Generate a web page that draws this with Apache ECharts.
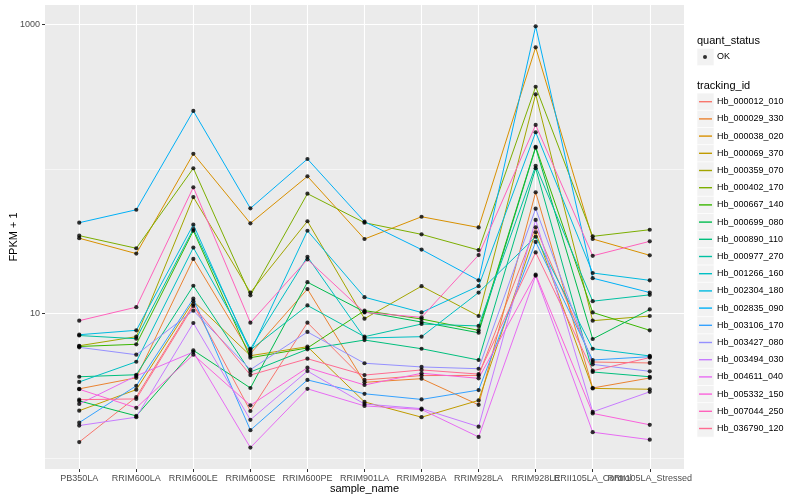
<!DOCTYPE html>
<html><head><meta charset="utf-8">
<script src="https://cdn.jsdelivr.net/npm/echarts@6/dist/echarts.min.js"></script>
<style>html,body{margin:0;padding:0;background:#fff}#c{width:800px;height:500px}</style>
</head><body><div id="c"></div>
<script>
// ---- data ----
const categories = ['PB350LA','RRIM600LA','RRIM600LE','RRIM600SE','RRIM600PE','RRIM901LA','RRIM928BA','RRIM928LA','RRIM928LE','RRII105LA_Control','RRII105LA_Stressed'];
const trackingIds = ['Hb_000012_010','Hb_000029_330','Hb_000038_020','Hb_000069_370','Hb_000359_070','Hb_000402_170','Hb_000667_140','Hb_000699_080','Hb_000890_110','Hb_000977_270','Hb_001266_160','Hb_002304_180','Hb_002835_090','Hb_003106_170','Hb_003427_080','Hb_003494_030','Hb_004611_040','Hb_005332_150','Hb_007044_250','Hb_036790_120'];
const seriesColors = ['#F8766D','#EA8331','#D89000','#C09B00','#A3A500','#7CAE00','#39B600','#00BB4E','#00BF7D','#00C1A3','#00BFC4','#00BAE0','#00B0F6','#35A2FF','#9590FF','#C77CFF','#E76BF3','#FA62DB','#FF62BC','#FF6C91'];

const hb_000012_010 = [1.30, 2.66, 11.6, 2.13, 8.67, 3.49, 3.74, 3.75, 39.5, 4.64, 4.57];
const hb_000029_330 = [3.03, 3.61, 23.9, 5.30, 14.8, 3.36, 3.56, 2.35, 68.9, 3.07, 3.60];
const hb_000038_020 = [33.2, 26.0, 127, 42.1, 88.8, 32.8, 46.7, 39.4, 690, 32.8, 25.3];
const hb_000069_370 = [2.14, 2.99, 12.2, 5.13, 5.92, 2.46, 1.93, 2.52, 36.5, 3.05, 3.01];
const hb_000359_070 = [6.01, 6.94, 63.9, 14.0, 43.5, 9.24, 15.5, 9.64, 327, 8.95, 9.64];
const hb_000402_170 = [34.6, 28.3, 101, 13.4, 67.4, 42.5, 35.3, 27.5, 369, 34.2, 38.0];
const hb_000667_140 = [5.94, 6.15, 37.4, 4.97, 5.80, 10.5, 9.19, 7.68, 142, 10.2, 7.68];
const hb_000699_080 = [2.50, 1.97, 5.59, 3.07, 16.5, 10.3, 8.76, 7.39, 140, 6.69, 10.7];
const hb_000890_110 = [3.67, 3.79, 15.6, 3.96, 5.68, 6.58, 5.73, 4.79, 101, 3.96, 3.67];
const hb_000977_270 = [7.07, 6.72, 38.4, 5.62, 11.4, 6.94, 8.49, 8.23, 105, 12.2, 13.5];
const hb_001266_160 = [3.38, 4.66, 28.6, 5.73, 24.7, 6.80, 6.94, 14.0, 34.0, 5.73, 5.11];
const hb_002304_180 = [7.16, 7.68, 41.2, 5.44, 37.4, 13.0, 10.2, 15.5, 179, 19.1, 17.0];
const hb_002835_090 = [42.5, 52.2, 251, 53.4, 117, 43.2, 27.7, 17.0, 964, 17.6, 14.0];
const hb_003106_170 = [1.77, 3.18, 12.7, 1.57, 3.49, 2.80, 2.56, 2.97, 31.3, 4.79, 5.05];
const hb_003427_080 = [5.86, 5.21, 10.5, 4.11, 7.48, 4.55, 4.29, 4.17, 53.1, 4.47, 4.00];
const hb_003494_030 = [1.69, 1.93, 8.63, 1.85, 4.02, 2.38, 2.21, 1.66, 44.4, 2.10, 2.89];
const hb_004611_040 = [2.38, 3.72, 5.44, 1.19, 3.03, 2.31, 2.18, 1.41, 18.3, 1.52, 1.35];
const hb_005332_150 = [3.01, 2.24, 5.21, 2.33, 4.24, 3.22, 3.88, 3.58, 18.6, 2.05, 1.71];
const hb_007044_250 = [8.95, 11.1, 74.6, 8.67, 23.7, 10.2, 9.44, 25.4, 201, 25.1, 31.6];
const hb_036790_120 = [2.55, 2.58, 11.3, 3.77, 4.89, 3.77, 4.09, 3.83, 26.5, 4.04, 4.98];

const yTickLabels = [10, 1000];
const yMinorBreaks = [1, 100];
const quantStatus = ['OK'];

// ---- build ----
const seriesValues = [hb_000012_010, hb_000029_330, hb_000038_020, hb_000069_370, hb_000359_070, hb_000402_170, hb_000667_140, hb_000699_080, hb_000890_110, hb_000977_270, hb_001266_160, hb_002304_180, hb_002835_090, hb_003106_170, hb_003427_080, hb_003494_030, hb_004611_040, hb_005332_150, hb_007044_250, hb_036790_120];
const xPositions = categories.map((c, i) => i + 1);
const xMin = 0.4, xMax = 11.6;
// an extra empty label at the axis end keeps the overlap check off the last real labels
const xLabelValues = xPositions.concat([xMax - 0.01]);
const FONT = '"Liberation Sans", Arial, sans-serif';

const series = [];
seriesValues.forEach((vals, i) => {
  series.push({
    type: 'line', name: trackingIds[i],
    data: vals.map((v, j) => [xPositions[j], v]),
    symbol: 'none', silent: true, z: 2,
    lineStyle: { width: 1, color: seriesColors[i] },
    itemStyle: { color: seriesColors[i] }
  });
});
const allPoints = [];
seriesValues.forEach(vals => vals.forEach((v, j) => allPoints.push([xPositions[j], v])));
series.push({
  type: 'scatter', name: quantStatus[0], data: allPoints,
  symbol: 'circle', symbolSize: 4.2, itemStyle: { color: '#000' }, z: 3, silent: true
});

const legendTop1 = 48.4, legendTop2 = 93.1, rowH = 17.2;
const keyRects = [{ type: 'rect', shape: { x: 697, y: legendTop1, width: 17, height: rowH }, style: { fill: '#F2F2F2', stroke: '#fff', lineWidth: 0.6 }, z: -10 }];
trackingIds.forEach((t, i) => keyRects.push({ type: 'rect', shape: { x: 697, y: legendTop2 + i * rowH, width: 17, height: rowH }, style: { fill: '#F2F2F2', stroke: '#fff', lineWidth: 0.6 }, z: -10 }));

const yMin = 0.847, yMax = 1353;
const option = {
  animation: false,
  backgroundColor: '#fff',
  textStyle: { fontFamily: FONT },
  title: [
    { text: 'quant_status', left: 697, top: 35, padding: 0, textStyle: { fontSize: 11, fontWeight: 'normal', color: '#000', fontFamily: FONT } },
    { text: 'tracking_id', left: 697, top: 80, padding: 0, textStyle: { fontSize: 11, fontWeight: 'normal', color: '#000', fontFamily: FONT } }
  ],
  grid: { left: 45, right: 116, top: 5, bottom: 31, show: true, backgroundColor: '#EBEBEB', borderWidth: 0, containLabel: false, outerBoundsMode: 'none' },
  xAxis: {
    type: 'value', min: xMin, max: xMax,
    axisLine: { show: false },
    axisTick: { show: true, length: 3, customValues: xPositions, lineStyle: { color: '#333', width: 1 } },
    axisLabel: { customValues: xLabelValues, formatter: v => (Math.abs(v - Math.round(v)) < 0.001 ? (categories[Math.round(v) - 1] || '') : ''), color: '#4D4D4D', fontSize: 9, margin: 5, fontFamily: FONT, showMinLabel: true, showMaxLabel: false, hideOverlap: false },
    splitLine: { show: true, lineStyle: { color: '#fff', width: 1.1 } },
    name: 'sample_name', nameLocation: 'middle', nameGap: 14, nameMoveOverlap: false,
    nameTextStyle: { fontSize: 11, color: '#000', fontFamily: FONT }
  },
  yAxis: [
    {
      type: 'log', logBase: 10, min: yMin, max: yMax,
      axisLine: { show: false },
      axisTick: { show: true, length: 3, customValues: yTickLabels, lineStyle: { color: '#333', width: 1 } },
      axisLabel: { customValues: yTickLabels, formatter: v => String(Math.round(v)), color: '#4D4D4D', fontSize: 9, margin: 5, fontFamily: FONT },
      splitLine: { show: true, lineStyle: { color: '#fff', width: 1.1 } },
      name: 'FPKM + 1', nameLocation: 'middle', nameGap: 26, nameRotate: 90, nameMoveOverlap: false,
      nameTextStyle: { fontSize: 11, color: '#000', fontFamily: FONT }
    },
    {
      type: 'log', logBase: 10, min: yMin, max: yMax, position: 'left',
      axisLine: { show: false },
      axisTick: { show: false, customValues: yMinorBreaks },
      axisLabel: { show: false, customValues: yMinorBreaks },
      splitLine: { show: true, lineStyle: { color: '#fff', width: 0.55 } }
    }
  ],
  legend: [
    {
      data: [{ name: quantStatus[0], icon: 'circle' }], orient: 'vertical', left: 703, top: legendTop1,
      itemWidth: 4, itemHeight: 4, itemGap: 0, padding: 0, selectedMode: false,
      formatter: n => '  ' + n,
      textStyle: { fontSize: 9, color: '#000', lineHeight: rowH, fontFamily: FONT }
    },
    {
      data: trackingIds.map(t => ({ name: t, icon: 'rect' })), orient: 'vertical', left: 699, top: legendTop2,
      itemWidth: 13, itemHeight: 1.4, itemGap: 0, padding: 0, selectedMode: false,
      textStyle: { fontSize: 9, color: '#000', lineHeight: rowH, fontFamily: FONT }
    }
  ],
  graphic: keyRects,
  series: series
};
const chart = echarts.init(document.getElementById('c'), null, { renderer: 'canvas' });
chart.setOption(option);
</script></body></html>
